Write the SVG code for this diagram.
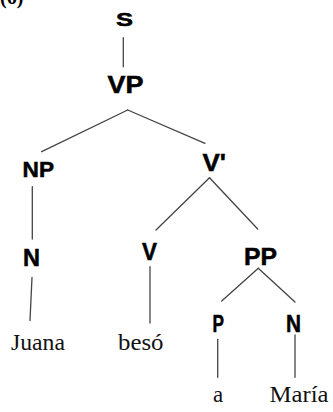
<svg xmlns="http://www.w3.org/2000/svg" width="333" height="412" viewBox="0 0 333 412">
<style>
.lbl{font-family:"Liberation Sans",Arial,sans-serif;font-weight:bold;fill:#000;stroke:#000;stroke-width:0.5;}
.w{font-family:"Liberation Serif","Times New Roman",serif;font-size:23px;fill:#111;}
.e{stroke:#444;stroke-width:1.3;fill:none;stroke-linecap:round;}
</style>
<rect width="333" height="412" fill="#fff"/>
<text x="0" y="4" style="font-family:'Liberation Serif',serif;font-weight:bold;font-size:20px">(6)</text>
<g id="connectors">
<line class="e" x1="123.3" y1="37.7" x2="123.3" y2="66.7"/>
<line class="e" x1="127.7" y1="110" x2="41.7" y2="151.7"/>
<line class="e" x1="127.7" y1="110" x2="205" y2="143.3"/>
<line class="e" x1="32.3" y1="186.7" x2="32.3" y2="239"/>
<line class="e" x1="32" y1="277.5" x2="30" y2="320.5"/>
<line class="e" x1="209.5" y1="177.7" x2="156" y2="230"/>
<line class="e" x1="209.5" y1="177.7" x2="257.7" y2="229"/>
<line class="e" x1="150" y1="266.7" x2="150" y2="323"/>
<line class="e" x1="258.3" y1="268.3" x2="221.7" y2="301"/>
<line class="e" x1="258.3" y1="268.3" x2="295" y2="302"/>
<line class="e" x1="217.7" y1="339.3" x2="217.7" y2="377.3"/>
<line class="e" x1="295" y1="335" x2="295" y2="377.3"/>
</g>
<g id="S"><text class="lbl" x="116" y="26" font-size="18" textLength="17" lengthAdjust="spacingAndGlyphs">S</text></g>
<g id="VP"><text class="lbl" x="107.5" y="92.7" font-size="23.3" textLength="36" lengthAdjust="spacingAndGlyphs">VP</text></g>
<g id="NP"><text class="lbl" x="22.5" y="177.3" font-size="22" textLength="31.5" lengthAdjust="spacingAndGlyphs">NP</text></g>
<g id="N1"><text class="lbl" x="23" y="266" font-size="23" textLength="17" lengthAdjust="spacingAndGlyphs">N</text></g>
<g id="Vbar"><text class="lbl" x="202.5" y="170.7" font-size="23.7" textLength="23.5" lengthAdjust="spacingAndGlyphs">V'</text></g>
<g id="V"><text class="lbl" x="142" y="260" font-size="24" textLength="15" lengthAdjust="spacingAndGlyphs">V</text></g>
<g id="PP"><text class="lbl" x="244" y="265" font-size="23.3" textLength="33" lengthAdjust="spacingAndGlyphs">PP</text></g>
<g id="P"><text class="lbl" x="212.5" y="331.7" font-size="23.3" textLength="11.5" lengthAdjust="spacingAndGlyphs">P</text></g>
<g id="N2"><text class="lbl" x="286" y="331.7" font-size="23.3" textLength="15" lengthAdjust="spacingAndGlyphs">N</text></g>
<g id="Juana"><text class="w" x="11" y="350" textLength="54" lengthAdjust="spacingAndGlyphs">Juana</text></g>
<g id="beso"><text class="w" x="118" y="350" textLength="45.5" lengthAdjust="spacingAndGlyphs">besó</text></g>
<g id="a"><text class="w" x="213" y="401.7">a</text></g>
<g id="Maria"><text class="w" x="269.5" y="401.7" textLength="59" lengthAdjust="spacingAndGlyphs">María</text></g>
</svg>
